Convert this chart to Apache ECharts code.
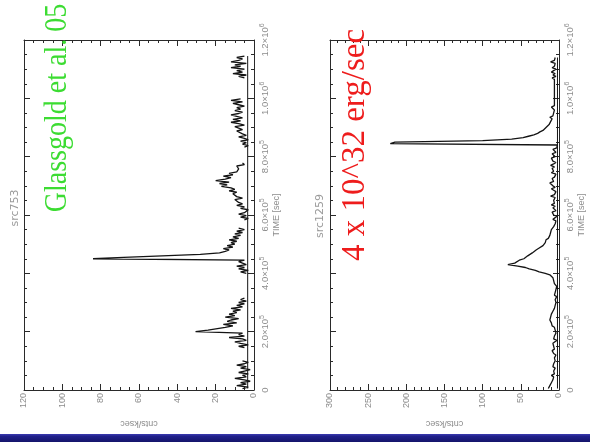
<!DOCTYPE html>
<html>
<head>
<meta charset="utf-8">
<script src="https://cdn.jsdelivr.net/npm/echarts@6/dist/echarts.min.js"></script>
<style>
html, body { margin: 0; padding: 0; background: #ffffff; }
#chart { width: 590px; height: 442px; }
</style>
</head>
<body>
<div id="chart"></div>
<script>
// X-ray light curves, 5 ks bins. Time in seconds, rate in counts per ksec.
const BIN = 5000;

// src753: one array per continuous stretch of data, with the time of its first bin
const src753Starts = [5000, 145000, 400000, 583000, 833000, 1070000];
const src753SegA = [6, 3, 9, 4, 7, 2, 5, 10, 4, 6, 3, 8, 5, 2, 7, 4, 9, 5, 3, 6];
const src753SegB = [5, 8, 3, 7, 10, 4, 6, 13, 5, 8, 6, 30.5, 24, 23, 15, 11, 16, 9, 14, 12,
                    8, 15, 10, 13, 9, 11, 7, 12, 6, 9, 5, 8, 4, 7, 5];
const src753SegC = [4, 7, 3, 8, 5, 9, 4, 6, 8, 5, 84, 68, 68, 28, 18, 15, 13, 16, 11, 14,
                    10, 12, 9, 13, 8, 11, 7, 10, 6, 9, 5, 8];
const src753SegD = [5, 3, 7, 4, 8, 5, 6, 3, 7, 5, 9, 6, 8, 7, 10, 6, 9, 8, 11, 9,
                    13, 10, 12, 17, 14, 18, 13, 20, 15, 12, 16, 11, 13, 9, 10, 8, 7, 9, 5, 6];
const src753SegE = [5, 3, 6, 4, 7, 3, 5, 8, 4, 6, 5, 9, 6, 7, 10, 5, 8, 12, 7, 11,
                    6, 9, 12, 8, 6, 10, 7, 9, 5, 8, 11, 6, 12, 7];
const src753SegF = [5, 8, 4, 11, 6, 9, 5, 12, 7, 10, 4, 12, 8, 6, 9, 5];
const src753Level = 3.3;

// src1259
const src1259Starts = [5000, 395000, 570000, 845000, 1065000];
const src1259SegA = [14, 16, 12, 13, 10, 11, 8, 9, 7, 10, 6, 8, 7, 9, 5, 8, 6, 7, 9, 5,
                     7, 6, 8, 4, 7, 5, 9, 6, 4, 7, 5, 8, 6, 3, 7, 5, 6, 8, 4, 6,
                     5, 7, 6, 9, 7, 10, 8, 12, 14, 11, 13, 10, 9, 8, 7, 6, 8, 5, 7, 4,
                     6, 5, 7, 3, 6, 4, 5, 7, 4, 6, 3, 5, 6, 4, 7, 5, 8, 10];
const src1259SegB = [12, 18, 26, 31, 39, 44, 54, 67, 58, 60, 52, 46, 48, 41, 39, 35, 33, 30, 27, 25,
                     21, 20, 18, 16, 17, 14, 13, 12, 10, 11, 9, 10, 8, 7, 6];
const src1259SegC = [5, 7, 4, 8, 6, 3, 7, 5, 9, 4, 6, 8, 5, 10, 6, 4, 7, 9, 5, 11,
                     6, 8, 4, 7, 10, 5, 8, 6, 12, 7, 5, 9, 6, 8, 4, 10, 7, 5, 9, 6,
                     11, 7, 4, 8, 6, 10, 5, 7, 9, 4, 6, 8, 3, 5, 2];
const src1259SegD = [221, 215, 100, 62, 47, 40, 33, 28, 25, 21, 19, 17, 15, 13, 15, 11, 13, 9, 12, 8,
                     10, 7, 9, 6, 8, 10, 6, 7, 6, 5];
const src1259SegE = [6, 9, 4, 8, 5, 10, 7, 4, 9, 6, 8, 5, 11, 6, 7, 5];
const src1259Level = 2;

// Time axis tick labels: mantissa and power of ten
const timeTickMantissa = ['0', '2.0', '4.0', '6.0', '8.0', '1.0', '1.2'];
const timeTickExponent = ['', '5', '5', '5', '5', '6', '6'];
const TIME_STEP = 200000;

const LABEL_GREY = '#8c8c8c';
const FRAME = '#2a2a2a';
const CURVE = '#141414';

function binsToPoints(start, values) {
  return values.map((v, i) => [v, start + i * BIN]);
}

// Joins stretches into one polyline; with breakGaps the line stops across data gaps
function joinSegments(starts, segs, breakGaps) {
  const out = [];
  segs.forEach((seg, k) => {
    if (k > 0 && breakGaps) out.push(['-', '-']);
    binsToPoints(starts[k], seg).forEach(p => out.push(p));
  });
  return out;
}

function timeLabel(v) {
  const i = Math.round(v / TIME_STEP);
  if (!timeTickExponent[i]) return '{b|' + timeTickMantissa[i] + '}';
  return '{b|' + timeTickMantissa[i] + '×10}{s|' + timeTickExponent[i] + '}';
}

const src753Data = joinSegments(src753Starts,
  [src753SegA, src753SegB, src753SegC, src753SegD, src753SegE, src753SegF], true);
const src1259Data = joinSegments(src1259Starts,
  [src1259SegA, src1259SegB, src1259SegC, src1259SegD, src1259SegE], false);

const firstT753 = src753Starts[0];
const lastT753 = src753Starts[5] + (src753SegF.length - 1) * BIN;
const firstT1259 = src1259Starts[0];
const lastT1259 = src1259Starts[4] + (src1259SegE.length - 1) * BIN;

const grids = [
  { left: 24, top: 40, width: 230, height: 350, outerBoundsMode: 'none' },
  { left: 330, top: 40, width: 229, height: 350, outerBoundsMode: 'none' }
];

function frameParts(minorSplit) {
  return {
    axisLine: { show: true, onZero: false, lineStyle: { color: FRAME, width: 1 } },
    axisTick: { show: true, inside: true, length: 6, lineStyle: { color: FRAME } },
    minorTick: { show: true, splitNumber: minorSplit, length: 3, lineStyle: { color: FRAME } },
    splitLine: { show: false }
  };
}

function rateAxes(gridIndex, max, interval, minorSplit) {
  const common = Object.assign({ type: 'value', gridIndex, min: 0, max, interval, inverse: true },
    frameParts(minorSplit));
  return [
    Object.assign({}, common, {
      position: 'bottom',
      name: 'cnts/ksec', nameLocation: 'middle', nameRotate: 180, nameGap: 29,
      nameTextStyle: { color: LABEL_GREY, fontSize: 9, fontFamily: 'Liberation Sans' },
      axisLabel: { show: true, rotate: 90, margin: 3, color: LABEL_GREY, fontSize: 9,
                   fontFamily: 'Liberation Sans' }
    }),
    Object.assign({}, common, { position: 'top', axisLabel: { show: false } })
  ];
}

function timeAxes(gridIndex) {
  const common = Object.assign({ type: 'value', gridIndex, min: 0, max: 1200000, interval: TIME_STEP },
    frameParts(4));
  return [
    Object.assign({}, common, {
      position: 'right',
      name: 'TIME [sec]', nameLocation: 'middle', nameRotate: 90, nameGap: 18,
      nameTextStyle: { color: LABEL_GREY, fontSize: 9, fontFamily: 'Liberation Sans' },
      axisLabel: {
        show: true, rotate: 90, margin: 5, formatter: timeLabel,
        rich: {
          b: { color: LABEL_GREY, fontSize: 9.5, fontFamily: 'Liberation Sans', lineHeight: 12 },
          s: { color: LABEL_GREY, fontSize: 7, fontFamily: 'Liberation Sans', verticalAlign: 'top', lineHeight: 8 }
        }
      }
    }),
    Object.assign({}, common, { position: 'left', axisLabel: { show: false } })
  ];
}

function rotatedText(text, x, y, size, color, family, scaleX) {
  return {
    type: 'text', x, y, rotation: Math.PI / 2, scaleX: scaleX || 1,
    style: { text, fill: color, fontSize: size, fontFamily: family,
             align: 'center', verticalAlign: 'middle' },
    z: 20
  };
}

const option = {
  animation: false,
  backgroundColor: '#ffffff',
  grid: grids,
  xAxis: [].concat(rateAxes(0, 120, 20, 4), rateAxes(1, 300, 50, 5)),
  yAxis: [].concat(timeAxes(0), timeAxes(1)),
  series: [
    {
      name: 'src753', type: 'line', xAxisIndex: 0, yAxisIndex: 0,
      data: src753Data, showSymbol: false, symbol: 'none', connectNulls: false,
      lineStyle: { color: CURVE, width: 1.3 }, z: 3
    },
    {
      name: 'src753 level', type: 'line', xAxisIndex: 0, yAxisIndex: 0,
      data: [[src753Level, firstT753], [src753Level, lastT753]], symbol: 'none',
      lineStyle: { color: CURVE, width: 1 }, z: 2
    },
    {
      name: 'src1259', type: 'line', xAxisIndex: 2, yAxisIndex: 2,
      data: src1259Data, showSymbol: false, symbol: 'none',
      lineStyle: { color: CURVE, width: 1.3 }, z: 3
    },
    {
      name: 'src1259 level', type: 'line', xAxisIndex: 2, yAxisIndex: 2,
      data: [[src1259Level, firstT1259], [src1259Level, lastT1259]], symbol: 'none',
      lineStyle: { color: CURVE, width: 1 }, z: 2
    }
  ],
  graphic: [
    rotatedText('src753', 15, 208, 11, '#9a9a9a', 'DejaVu Sans'),
    rotatedText('src1259', 320, 216, 11, '#9a9a9a', 'DejaVu Sans'),
    rotatedText('Glassgold et al. 05', 58, 108, 32, '#3cdc32', 'Liberation Serif', 0.875),
    rotatedText('4 x 10^32 erg/sec', 355, 145, 33, '#ee1c1c', 'Liberation Serif'),
    {
      type: 'rect', shape: { x: 0, y: 434, width: 590, height: 8 },
      style: {
        fill: {
          type: 'linear', x: 0, y: 0, x2: 0, y2: 1,
          colorStops: [{ offset: 0, color: '#3a3ab0' }, { offset: 0.3, color: '#20208a' }, { offset: 1, color: '#14146a' }]
        }
      },
      z: 10
    }
  ]
};

const chart = echarts.init(document.getElementById('chart'), null, { renderer: 'canvas' });
chart.setOption(option);
</script>
</body>
</html>
